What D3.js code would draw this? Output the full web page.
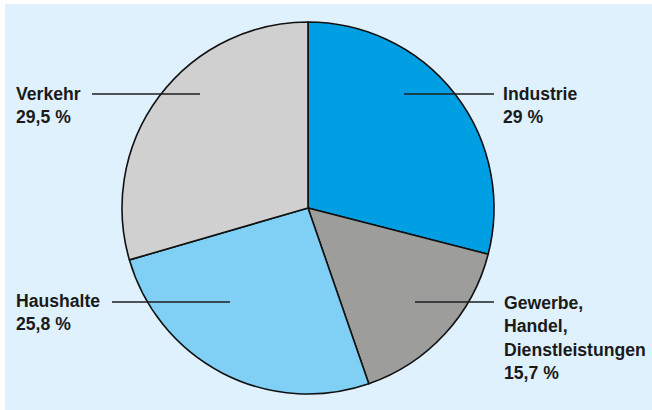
<!DOCTYPE html>
<html>
<head>
<meta charset="utf-8">
<script src="https://cdn.jsdelivr.net/npm/d3@7"></script>
<style>
  body { margin: 0; background: #fff; }
  text { font-family: "Liberation Sans", Arial, sans-serif; font-weight: bold; fill: #1a1a1a; }
</style>
</head>
<body>
<svg id="chart" width="652" height="410"></svg>
<script>
// Anteile am Endenergieverbrauch, im Uhrzeigersinn ab 12 Uhr
const sectors = ["Industrie", "Gewerbe, Handel, Dienstleistungen", "Haushalte", "Verkehr"]
const shares = [29, 15.7, 25.8, 29.5]
const shareLabels = ["29 %", "15,7 %", "25,8 %", "29,5 %"]
const colors = ["#009fe3", "#9d9d9c", "#80cff5", "#d0d0d0"]

const WIDTH = 652
const HEIGHT = 410
const CX = 308
const CY = 208
const RADIUS = 186
const LINE_HEIGHT = 23.3

// label layout: text anchor + leader line (x1 -> x2 at y)
const labelPos = [
  { x: 503, y: 100, lx1: 404, lx2: 494, ly: 94 },
  { x: 504, y: 309, lx1: 415, lx2: 494, ly: 302 },
  { x: 16, y: 307, lx1: 112, lx2: 230, ly: 302 },
  { x: 16, y: 100, lx1: 92, lx2: 200, ly: 94 }
]

const svg = d3.select('#chart')

svg.append('rect')
  .attr('x', 5).attr('y', 4)
  .attr('width', WIDTH - 5).attr('height', HEIGHT - 4)
  .attr('fill', '#dff1fd')

const data = sectors.map((s, i) => ({ name: s, value: shares[i], label: shareLabels[i], color: colors[i] }))

const pie = d3.pie().sort(null).value(d => d.value)
const arc = d3.arc().innerRadius(0).outerRadius(RADIUS)

const g = svg.append('g').attr('transform', `translate(${CX}, ${CY})`)

g.selectAll('path')
  .data(pie(data))
  .join('path')
  .attr('d', arc)
  .attr('fill', d => d.data.color)
  .attr('stroke', '#111')
  .attr('stroke-width', 1.6)
  .attr('stroke-linejoin', 'round')

// leader lines
svg.selectAll('line.leader')
  .data(data)
  .join('line')
  .attr('class', 'leader')
  .attr('x1', (d, i) => labelPos[i].lx1)
  .attr('x2', (d, i) => labelPos[i].lx2)
  .attr('y1', (d, i) => labelPos[i].ly)
  .attr('y2', (d, i) => labelPos[i].ly)
  .attr('stroke', '#1e1e1e')
  .attr('stroke-width', 1.3)

// labels: name split at commas, then the share
const labels = svg.selectAll('text.lbl')
  .data(data)
  .join('text')
  .attr('class', 'lbl')
  .attr('font-size', 17.6)

labels.each(function(d, i) {
  const parts = d.name.split(', ').map((p, k, arr) => k < arr.length - 1 ? p + ',' : p)
  parts.push(d.label)
  d3.select(this).selectAll('tspan')
    .data(parts)
    .join('tspan')
    .attr('x', labelPos[i].x)
    .attr('y', (p, k) => labelPos[i].y + k * LINE_HEIGHT)
    .text(p => p)
})
</script>
</body>
</html>
